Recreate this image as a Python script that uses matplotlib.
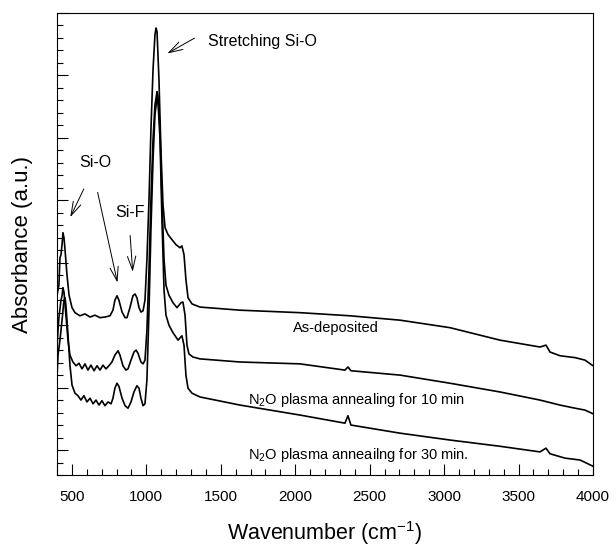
import numpy as np
import matplotlib
matplotlib.use('Agg')
import matplotlib.pyplot as plt
from matplotlib.ticker import MultipleLocator, NullFormatter

# As-deposited
wn_as = [400, 413, 420, 427, 434, 440, 447, 454, 467, 481, 501, 521, 554, 588, 622, 655, 689,
         722, 756, 776, 789, 803, 816, 837, 857, 870, 890, 910, 924, 937, 951, 964, 978, 991,
         1004, 1018, 1031, 1045, 1058, 1065, 1072, 1085, 1098, 1112, 1126, 1146, 1172, 1199,
         1226, 1239, 1253, 1266, 1280, 1307, 1360, 1629, 2032, 2368, 2704, 3039, 3375, 3644,
         3684, 3711, 3778, 3879, 3946, 4000]
ab_as = [0.248, 0.264, 0.308, 0.313, 0.329, 0.348, 0.340, 0.321, 0.281, 0.248, 0.228, 0.220,
         0.215, 0.218, 0.213, 0.216, 0.212, 0.213, 0.215, 0.224, 0.240, 0.247, 0.240, 0.221,
         0.212, 0.212, 0.228, 0.247, 0.250, 0.244, 0.228, 0.221, 0.223, 0.240, 0.305, 0.401,
         0.513, 0.609, 0.665, 0.676, 0.670, 0.593, 0.481, 0.393, 0.356, 0.345, 0.337, 0.329,
         0.324, 0.327, 0.313, 0.273, 0.244, 0.234, 0.229, 0.224, 0.220, 0.215, 0.208, 0.196,
         0.176, 0.165, 0.168, 0.157, 0.151, 0.148, 0.144, 0.135]

# N2O plasma 10 min
wn_10 = [400, 407, 413, 427, 434, 440, 447, 460, 474, 487, 507, 528, 548, 568, 588, 608, 628,
         649, 669, 689, 709, 729, 749, 769, 789, 810, 823, 843, 863, 877, 897, 917, 931, 944,
         964, 978, 991, 1004, 1018, 1031, 1045, 1058, 1072, 1078, 1092, 1105, 1119, 1132, 1152,
         1179, 1206, 1233, 1246, 1260, 1273, 1286, 1313, 1360, 1629, 2032, 2334, 2354, 2374,
         2704, 3039, 3375, 3644, 3778, 3879, 3946, 4000]
ab_10 = [0.165, 0.192, 0.212, 0.240, 0.247, 0.260, 0.253, 0.216, 0.176, 0.152, 0.141, 0.135,
         0.139, 0.130, 0.138, 0.128, 0.136, 0.127, 0.135, 0.128, 0.136, 0.130, 0.135, 0.141,
         0.152, 0.159, 0.152, 0.135, 0.128, 0.130, 0.144, 0.157, 0.160, 0.155, 0.141, 0.138,
         0.144, 0.192, 0.289, 0.401, 0.497, 0.553, 0.574, 0.567, 0.513, 0.401, 0.305, 0.264,
         0.248, 0.236, 0.228, 0.236, 0.237, 0.216, 0.168, 0.154, 0.149, 0.146, 0.141, 0.138,
         0.128, 0.133, 0.127, 0.120, 0.107, 0.093, 0.080, 0.072, 0.067, 0.064, 0.058]

# N2O plasma 30 min
wn_30 = [400, 407, 420, 434, 447, 454, 460, 474, 487, 501, 521, 541, 561, 581, 601, 622, 642,
         662, 682, 702, 722, 743, 763, 776, 789, 803, 816, 837, 857, 877, 897, 917, 937, 951,
         964, 978, 991, 1004, 1018, 1031, 1045, 1058, 1072, 1078, 1092, 1105, 1119, 1132, 1152,
         1179, 1213, 1239, 1253, 1266, 1280, 1307, 1360, 1629, 2032, 2334, 2354, 2374, 2704,
         3039, 3375, 3644, 3684, 3711, 3812, 3913, 4000]
ab_30 = [0.115, 0.152, 0.176, 0.208, 0.240, 0.244, 0.232, 0.184, 0.136, 0.104, 0.091, 0.087,
         0.080, 0.087, 0.077, 0.083, 0.074, 0.080, 0.072, 0.079, 0.071, 0.077, 0.074, 0.083,
         0.099, 0.107, 0.102, 0.083, 0.071, 0.067, 0.077, 0.093, 0.103, 0.099, 0.083, 0.071,
         0.074, 0.112, 0.224, 0.353, 0.465, 0.537, 0.564, 0.561, 0.497, 0.369, 0.256, 0.216,
         0.200, 0.188, 0.176, 0.183, 0.168, 0.120, 0.099, 0.091, 0.085, 0.072, 0.056, 0.043,
         0.055, 0.040, 0.027, 0.016, 0.006, -0.003, 0.003, -0.006, -0.013, -0.016, -0.026]


def main():
    plt.rcParams['font.family'] = 'Liberation Sans'
    plt.rcParams['mathtext.default'] = 'regular'

    fig = plt.figure(figsize=(6.16, 5.49), dpi=100)
    ax = fig.add_axes([0.0925, 0.1348, 0.8702, 0.8415])

    for wn, ab in [(wn_as, ab_as), (wn_10, ab_10), (wn_30, ab_30)]:
        ax.plot(wn, ab, color='black', lw=1.2)

    ax.set_xlim(400, 4000)
    ax.set_ylim(-0.04, 0.70)

    ax.xaxis.set_major_locator(MultipleLocator(500))
    ax.xaxis.set_minor_locator(MultipleLocator(100))
    ax.yaxis.set_major_locator(MultipleLocator(0.1))
    ax.yaxis.set_minor_locator(MultipleLocator(0.02))
    ax.yaxis.set_major_formatter(NullFormatter())
    ax.tick_params(which='both', direction='in', top=False, right=False, width=0.8)
    ax.tick_params(which='major', length=8, labelsize=11, pad=11)
    ax.tick_params(which='minor', length=4)

    ax.set_xlabel('Wavenumber (cm$^{-1}$)', fontsize=15.5, labelpad=11)
    ax.set_ylabel('Absorbance (a.u.)', fontsize=16, labelpad=6)

    # open, narrow arrow heads like the original
    arrow = dict(arrowstyle='->,head_length=1.0,head_width=0.3', lw=0.7,
                 color='black', mutation_scale=10)
    ax.text(1414, 0.654, 'Stretching Si-O', fontsize=11.5, va='center')
    ax.annotate('', xy=(1125, 0.633), xytext=(1340, 0.662), arrowprops=arrow)

    ax.text(548, 0.46, 'Si-O', fontsize=11.5, va='center')
    ax.annotate('', xy=(481, 0.369), xytext=(588, 0.422), arrowprops=arrow)
    ax.annotate('', xy=(810, 0.264), xytext=(669, 0.417), arrowprops=arrow)

    ax.text(790, 0.38, 'Si-F', fontsize=11.5, va='center')
    ax.annotate('', xy=(910, 0.281), xytext=(890, 0.348), arrowprops=arrow)

    ax.text(1985, 0.196, 'As-deposited', fontsize=10.5, va='center')
    ax.text(1683, 0.080, 'N$_2$O plasma annealing for 10 min', fontsize=10.5, va='center')
    ax.text(1683, -0.008, 'N$_2$O plasma anneailng for 30 min.', fontsize=10.5, va='center')

    plt.savefig('out.png', dpi=100)


if __name__ == '__main__':
    main()
